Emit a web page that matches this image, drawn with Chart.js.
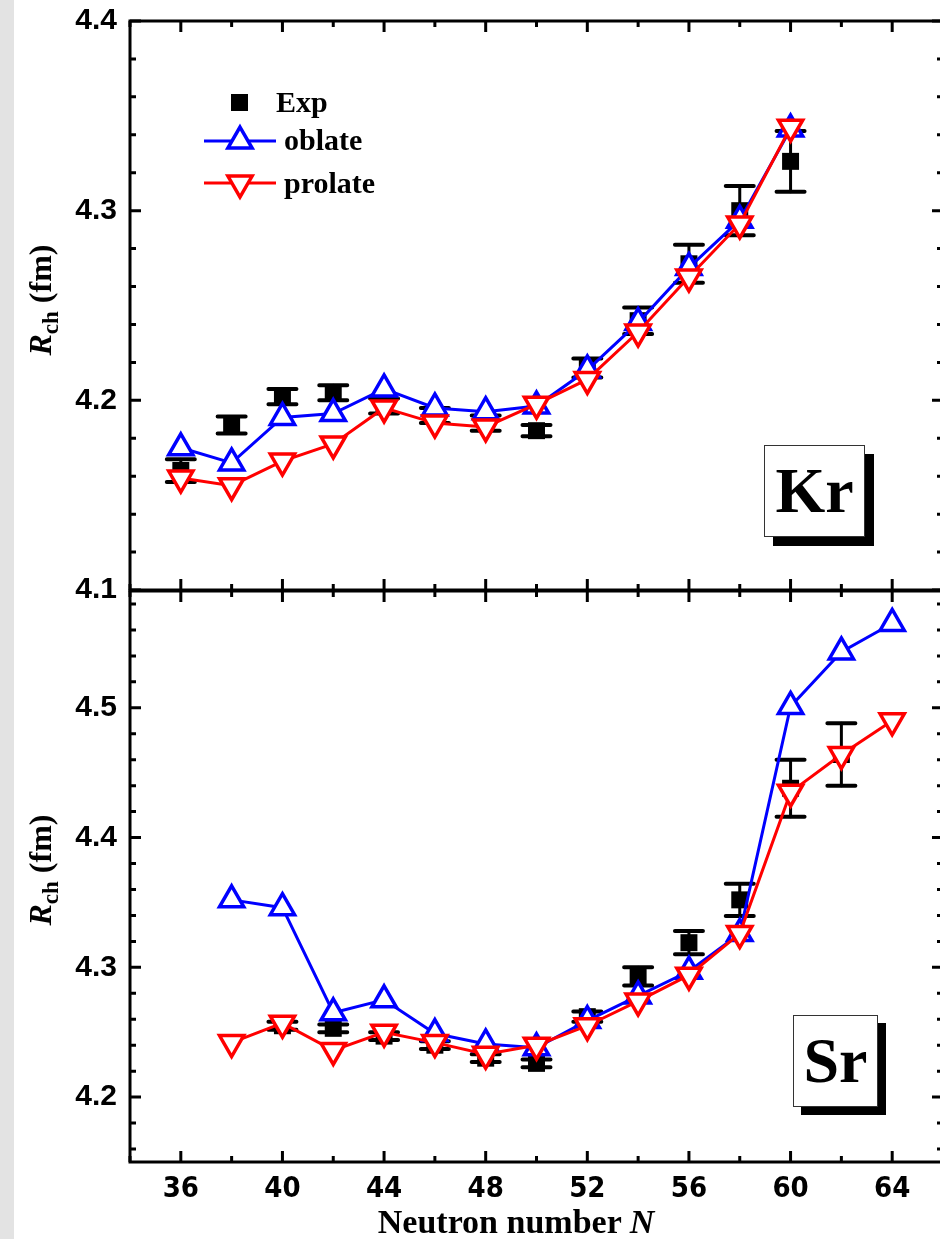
<!DOCTYPE html>
<html>
<head>
<meta charset="utf-8">
<script src="https://cdn.jsdelivr.net/npm/chart.js@4.4.0/dist/chart.umd.min.js"></script>
<style>
  html, body { margin: 0; padding: 0; width: 940px; height: 1239px; overflow: hidden; background: #fff; }
  #wrap { position: relative; width: 940px; height: 1239px; overflow: hidden; }
  canvas { position: absolute; left: 0; }
  #krCanvas { top: -10px; }
  #srCanvas { top: 560px; }
  .strip { position: absolute; left: 0; top: 0; width: 14px; height: 1239px; background: #e3e3e3; }
  .serif { position: absolute; font-family: 'Liberation Serif', 'Times New Roman', serif; font-weight: bold; color: #000; white-space: nowrap; z-index: 5; }
  .ytitle { width: 220px; height: 40px; line-height: 40px; font-size: 32px; text-align: center; transform: rotate(-90deg); }
  .ytitle sub { font-size: 23px; vertical-align: -7px; }
  .xtitle { left: 316px; top: 1202px; width: 400px; line-height: 40px; font-size: 34px; text-align: center; }
  .leg { font-size: 30px; line-height: 36px; }
  .tag { background: #fff; border: 1px solid #333; box-shadow: 9px 9px 0 #000; font-size: 64px; text-align: center; line-height: 90px; height: 90px; }
</style>
</head>
<body>
<div id="wrap">
  <div class="strip"></div>
  <canvas id="krCanvas" width="946" height="631"></canvas>
  <canvas id="srCanvas" width="946" height="679"></canvas>

  <div class="serif ytitle" style="left:-70px; top:280px;"><i>R</i><sub>ch</sub> (fm)</div>
  <div class="serif ytitle" style="left:-70px; top:850px;"><i>R</i><sub>ch</sub> (fm)</div>
  <div class="serif xtitle">Neutron number <i>N</i></div>

  <div class="serif leg" style="left:276px; top:84px;">Exp</div>
  <div class="serif leg" style="left:284px; top:122px;">oblate</div>
  <div class="serif leg" style="left:284px; top:165px;">prolate</div>

  <div class="serif tag" style="left:764px; top:445px; width:99px;">Kr</div>
  <div class="serif tag" style="left:793px; top:1015px; width:83px; box-shadow: 8px 8px 0 #000;">Sr</div>
</div>

<script>
// ---- data ----
const nTicks = [36, 40, 44, 48, 52, 56, 60, 64];
const krTicks = [4.1, 4.2, 4.3, 4.4];
const srTicks = [4.2, 4.3, 4.4, 4.5];

// Kr
const krN = [36, 38, 40, 42, 44, 46, 48, 50, 52, 54, 56, 58, 60];
const krExp = [4.163, 4.187, 4.202, 4.204, 4.197, 4.192, 4.188, 4.184, 4.217, 4.242, 4.272, 4.300, 4.326];
const krExpErr = [0.006, 0.0045, 0.004, 0.004, 0.004, 0.004, 0.004, 0.003, 0.005, 0.007, 0.010, 0.013, 0.016];
const krOblate = [4.175, 4.167, 4.191, 4.193, 4.206, 4.196, 4.194, 4.197, 4.216, 4.241, 4.270, 4.295, 4.343];
const krProlate = [4.159, 4.155, 4.168, 4.177, 4.196, 4.188, 4.186, 4.198, 4.211, 4.236, 4.265, 4.293, 4.344];

// Sr
const srExpN = [40, 42, 44, 46, 48, 50, 52, 54, 56, 58, 60, 62];
const srExp = [4.255, 4.253, 4.247, 4.240, 4.230, 4.226, 4.262, 4.293, 4.319, 4.352, 4.438, 4.464];
const srExpErr = [0.003, 0.003, 0.003, 0.003, 0.003, 0.003, 0.004, 0.007, 0.009, 0.0125, 0.022, 0.024];
const srN = [38, 40, 42, 44, 46, 48, 50, 52, 54, 56, 58, 60, 62, 64];
const srOblate = [4.352, 4.346, 4.265, 4.275, 4.249, 4.241, 4.238, 4.259, 4.278, 4.297, 4.326, 4.501, 4.543, 4.565];
const srProlate = [4.242, 4.257, 4.236, 4.250, 4.242, 4.233, 4.240, 4.255, 4.274, 4.294, 4.326, 4.435, 4.464, 4.490];

const BLUE = '#0000ff';
const RED = '#ff0000';
const tickFontY = { family: "'Liberation Sans', Arial, sans-serif", size: 30, weight: 'bold' };
const tickFontX = { family: "'Liberation Sans Narrow', 'DejaVu Sans Condensed', 'Liberation Sans', Arial, sans-serif", size: 29, weight: 'bold' };

const pts = (xs, ys) => xs.map((x, i) => ({ x: x, y: ys[i] }));

// error bars for the Exp points
const errorBars = {
    id: 'errorBars',
    afterDatasetDraw(chart, args) {
        const ds = chart.data.datasets[args.index];
        if (!ds.errors) return;
        const { ctx, scales: { x, y } } = chart;
        ctx.save();
        ctx.strokeStyle = '#000';
        ctx.lineCap = 'round';
        ds.data.forEach((p, i) => {
            const px = x.getPixelForValue(p.x);
            const top = y.getPixelForValue(p.y + ds.errors[i]);
            const bot = y.getPixelForValue(p.y - ds.errors[i]);
            ctx.lineWidth = 3;
            ctx.beginPath();
            ctx.moveTo(px, top); ctx.lineTo(px, bot);
            ctx.stroke();
            ctx.lineWidth = 4;
            ctx.beginPath();
            ctx.moveTo(px - 14, top); ctx.lineTo(px + 14, top);
            ctx.moveTo(px - 14, bot); ctx.lineTo(px + 14, bot);
            ctx.stroke();
        });
        ctx.restore();
    }
};

// box frame with inward ticks on all sides
const frame = {
    id: 'frame',
    afterDraw(chart) {
        const { ctx, chartArea: a, scales: { x, y } } = chart;
        ctx.save();
        ctx.strokeStyle = '#000';
        ctx.lineWidth = 3;
        ctx.strokeRect(a.left, a.top, a.right - a.left, a.bottom - a.top);
        ctx.beginPath();
        for (let n = 34; n <= 66; n += 2) {
            const px = x.getPixelForValue(n);
            const len = (n - 36) % 4 === 0 ? 11 : 6;
            ctx.moveTo(px, a.bottom); ctx.lineTo(px, a.bottom - len);
            ctx.moveTo(px, a.top); ctx.lineTo(px, a.top + len);
        }
        const k0 = Math.ceil(y.min / 0.02 - 1e-6);
        const k1 = Math.floor(y.max / 0.02 + 1e-6);
        for (let k = k0; k <= k1; k++) {
            const py = y.getPixelForValue(k * 0.02);
            const len = k % 5 === 0 ? 11 : 6;
            ctx.moveTo(a.left, py); ctx.lineTo(a.left + len, py);
            ctx.moveTo(a.right, py); ctx.lineTo(a.right - len, py);
        }
        ctx.stroke();
        ctx.restore();
    }
};

// legend inside the Kr panel (markers only, labels are html)
const legendMarks = {
    id: 'legendMarks',
    afterDraw(chart) {
        const ctx = chart.ctx;
        const draw = Chart.helpers && Chart.helpers.drawPoint;
        const dy = 10; // canvas sits 10px above the page top
        ctx.save();
        ctx.fillStyle = '#000';
        ctx.fillRect(231, 94 + dy, 17, 17);
        [[BLUE, 141, 0], [RED, 183, 180]].forEach(([c, ly, rot]) => {
            ctx.strokeStyle = c;
            ctx.lineWidth = 3;
            ctx.beginPath();
            ctx.moveTo(204, ly + dy); ctx.lineTo(276, ly + dy);
            ctx.stroke();
            ctx.fillStyle = '#fff';
            ctx.lineWidth = 3.5;
            if (draw) draw(ctx, { pointStyle: 'triangle', radius: 14, rotation: rot, borderWidth: 3.5 }, 240, ly + dy);
        });
        ctx.restore();
    }
};

function expSet(xs, ys, errs) {
    return {
        label: 'Exp', data: pts(xs, ys), errors: errs, showLine: false, order: 3,
        pointStyle: 'rect', pointRadius: 12, pointBackgroundColor: '#000', pointBorderWidth: 0
    };
}
function theorySet(label, xs, ys, color, rot, order) {
    return {
        label: label, data: pts(xs, ys), order: order,
        borderColor: color, borderWidth: 3, fill: false, tension: 0,
        pointStyle: 'triangle', pointRotation: rot, pointRadius: 14,
        pointBorderWidth: 3.5, pointBorderColor: color, pointBackgroundColor: '#fff'
    };
}

function makeChart(id, yMin, yMax, yTicks, datasets, showX, padding, extraPlugins) {
    return new Chart(document.getElementById(id).getContext('2d'), {
        type: 'line',
        data: { datasets: datasets },
        options: {
            responsive: false,
            animation: false,
            devicePixelRatio: 1,
            events: [],
            layout: { padding: padding, autoPadding: false },
            plugins: { legend: { display: false }, tooltip: { enabled: false } },
            scales: {
                x: {
                    type: 'linear', min: 34, max: 66, display: showX,
                    afterBuildTicks: s => { s.ticks = nTicks.map(v => ({ value: v })); },
                    afterFit: s => { s.height = showX ? 77 : 0; },
                    ticks: { font: tickFontX, color: '#000', padding: 10 },
                    grid: { display: false, drawTicks: false },
                    border: { display: false }
                },
                y: {
                    type: 'linear', min: yMin, max: yMax,
                    afterBuildTicks: s => { s.ticks = yTicks.map(v => ({ value: v })); },
                    afterFit: s => { s.width = 130; },
                    ticks: { font: tickFontY, color: '#000', padding: 13, callback: v => v.toFixed(1) },
                    grid: { display: false, drawTicks: false },
                    border: { display: false }
                }
            }
        },
        plugins: [errorBars, frame].concat(extraPlugins)
    });
}

makeChart('krCanvas', 4.1, 4.4, krTicks, [
    expSet(krN, krExp, krExpErr),
    theorySet('oblate', krN, krOblate, BLUE, 0, 2),
    theorySet('prolate', krN, krProlate, RED, 180, 1)
], false, { top: 20, bottom: 10, left: 0, right: 3 }, [legendMarks]);

makeChart('srCanvas', 4.15, 4.59, srTicks, [
    expSet(srExpN, srExp, srExpErr),
    theorySet('oblate', srN, srOblate, BLUE, 0, 2),
    theorySet('prolate', srN, srProlate, RED, 180, 1)
], true, { top: 10, bottom: 0, left: 0, right: 3 }, []);
</script>
</body>
</html>
